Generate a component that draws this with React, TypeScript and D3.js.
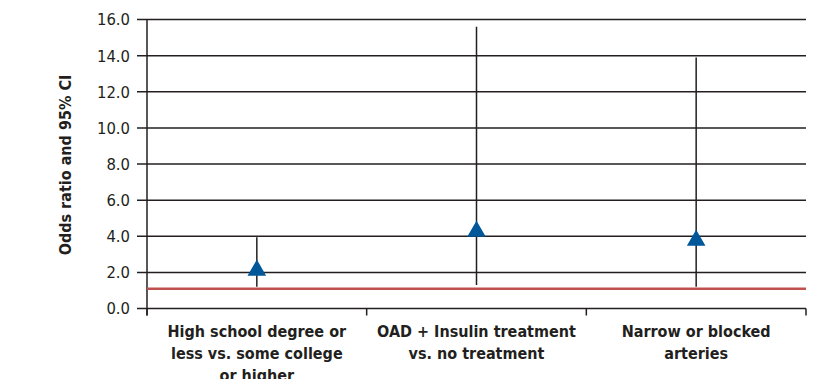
import React from 'react';
import * as d3 from 'd3';

// categories split the way the figure wraps them
const categories = [
  ['High school degree or', 'less vs. some college', 'or higher'],
  ['OAD + Insulin treatment', 'vs. no treatment'],
  ['Narrow or blocked', 'arteries'],
];
const oddsRatio = [2.2, 4.35, 3.85];
const ciLow = [1.2, 1.3, 1.2];
const ciHigh = [3.95, 15.6, 13.9];
const yTicks = [0, 2, 4, 6, 8, 10, 12, 14, 16];
const refLine = 1.1;

const width = 822;
const height = 379;
const font = '"DejaVu Sans Condensed", "Liberation Sans Narrow", Arial, sans-serif';
const ink = '#231f20';

const App = () => {
  const keys = categories.map((c, i) => String(i));

  const xScale = d3.scaleBand().domain(keys).range([147, 806]).padding(0);
  const yScale = d3.scaleLinear().domain([0, 16]).range([308.5, 19.5]);

  const tri = d3.symbol().type(d3.symbolTriangle).size(150)();

  const left = xScale.range()[0];
  const right = xScale.range()[1];
  const bounds = [left, ...keys.map(k => xScale(k) + xScale.bandwidth())];

  return (
    <svg width={width} height={height} style={{position: 'absolute', left: 0, top: 0}}>
      {/* gridlines + y ticks */}
      {yTicks.map(t => (
        <g key={t}>
          <line x1={left - 10} x2={right} y1={yScale(t)} y2={yScale(t)} stroke={ink} strokeWidth={1.5} />
          <text x={130} y={yScale(t)} dy="0.36em" textAnchor="end" fontFamily={font} fontSize={16.5} fill={ink}>
            {t.toFixed(1)}
          </text>
        </g>
      ))}

      {/* y axis */}
      <line x1={left} x2={left} y1={yScale(16)} y2={yScale(0) + 7} stroke={ink} strokeWidth={1.5} />
      {bounds.map((b, i) => (
        <line key={i} x1={b} x2={b} y1={yScale(0)} y2={yScale(0) + 7} stroke={ink} strokeWidth={1.5} />
      ))}

      {/* reference line at OR = 1 */}
      <line x1={left} x2={right} y1={yScale(refLine)} y2={yScale(refLine)} stroke="#c0504d" strokeWidth={2.5} />

      {/* CI bars and point estimates */}
      {keys.map((k, i) => {
        const cx = xScale(k) + xScale.bandwidth() / 2;
        return (
          <g key={k}>
            <line x1={cx} x2={cx} y1={yScale(ciLow[i])} y2={yScale(ciHigh[i])} stroke={ink} strokeWidth={1.5} />
            <path d={tri} transform={`translate(${cx},${yScale(oddsRatio[i]) + 1.5})`} fill="#00579a" />
          </g>
        );
      })}

      {/* category labels */}
      {keys.map((k, i) => {
        const cx = xScale(k) + xScale.bandwidth() / 2;
        return (
          <text key={k} textAnchor="middle" fontFamily={font} fontSize={16} fontWeight="bold" fill={ink}>
            {categories[i].map((line, j) => (
              <tspan key={j} x={cx} y={337 + j * 22}>{line}</tspan>
            ))}
          </text>
        );
      })}

      {/* y title */}
      <text
        transform={`translate(71,${(yScale(0) + yScale(16)) / 2 + 1}) rotate(-90)`}
        textAnchor="middle"
        fontFamily={font}
        fontSize={16}
        fontWeight="bold"
        fill={ink}
      >
        Odds ratio and 95% CI
      </text>
    </svg>
  );
};

export default App;
